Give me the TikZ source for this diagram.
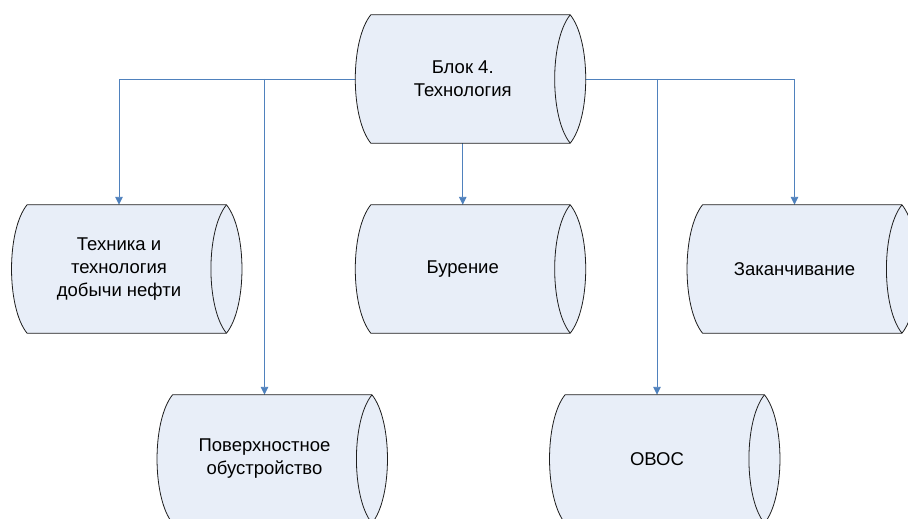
\documentclass[tikz,border=0pt]{standalone}
\usepackage{fontspec}
\setmainfont{Liberation Sans}
\usetikzlibrary{calc,arrows.meta,backgrounds}
\definecolor{cylfill}{RGB}{232,238,248}
\definecolor{conn}{RGB}{79,129,189}
\definecolor{edge}{RGB}{30,30,30}
\begin{document}
\begin{tikzpicture}[x=1pt,y=-1pt,
  cyl/.style={minimum width=183.5pt,minimum height=128pt,inner sep=0pt,align=center,
    font=\fontsize{18.5}{23}\selectfont},
  cylshape/.style={fill=cylfill,draw=edge,line width=0.8pt,line join=round},
  conline/.style={draw=conn,line width=0.9pt},
  arr/.style={conline,-{Triangle[length=8pt,width=7.5pt]}}]
\clip (0,0) rectangle (908,519);
\node[cyl] (top) at (462.75,79) {Блок 4.\\Технология};
\node[cyl] (tech) at (119,269) {Техника и\\технология\\добычи нефти};
\node[cyl] (bur) at (462.75,269) {Бурение};
\node[cyl] (zak) at (794.5,269) {Заканчивание};
\node[cyl] (pov) at (264.5,459) {Поверхностное\\обустройство};
\node[cyl] (ovos) at (657,459) {ОВОС};
\begin{scope}[on background layer]
  \draw[arr] (top.west) -| (tech.north);
  \draw[arr] (pov.north |- top.west) -- (pov.north);
  \draw[arr] (top.south) -- (bur.north);
  \draw[arr] (top.east) -| (zak.north);
  \draw[arr] (ovos.north |- top.east) -- (ovos.north);
  \foreach \n in {top,tech,bur,zak,pov,ovos}{
    \path[cylshape] (\n.north west) -- ($(\n.north east)+(15.5,0)$)
      .. controls +(20.7,25.6) and +(20.7,-25.6) .. ($(\n.south east)+(15.5,0)$)
      -- (\n.south west)
      .. controls +(-20.7,-25.6) and +(-20.7,25.6) .. (\n.north west) -- cycle;
    \draw[draw=edge,line width=0.8pt] ($(\n.north east)+(15.5,0)$)
      .. controls +(-20.7,25.6) and +(-20.7,-25.6) .. ($(\n.south east)+(15.5,0)$);
  }
\end{scope}
\end{tikzpicture}
\end{document}
